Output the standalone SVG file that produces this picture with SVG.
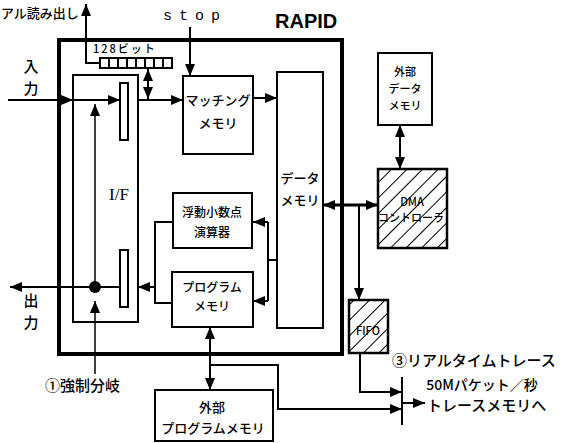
<svg xmlns="http://www.w3.org/2000/svg" width="575" height="443" viewBox="0 0 575 443">
<style>
.box{fill:#fff;stroke:#000;stroke-width:2}
.thick{fill:none;stroke:#000;stroke-width:4}
.ln{fill:none;stroke:#000;stroke-width:2}
.t{font-family:"Noto Sans CJK JP","Noto Sans",sans-serif;font-size:13px;font-weight:500;fill:#000;text-anchor:middle}
.s{font-family:"Noto Sans CJK JP","Noto Sans",sans-serif;font-weight:500;fill:#000}
</style>
<defs>
<marker id="ah" viewBox="0 0 12 10" refX="12" refY="5" markerWidth="12" markerHeight="10" markerUnits="userSpaceOnUse" orient="auto-start-reverse">
<path d="M0,0 L12,5 L0,10 z" fill="#000"/>
</marker>
<pattern id="hatch" width="11" height="11" patternUnits="userSpaceOnUse" patternTransform="rotate(45)">
<line x1="0" y1="0" x2="0" y2="11" stroke="#000" stroke-width="2"/>
</pattern>
</defs>
<rect width="575" height="443" fill="#fff"/>

<g id="rapid">
<rect x="59" y="40" width="283" height="314" class="thick"/>
<text x="275" y="28" style="font-family:'Liberation Sans',Arial,sans-serif;font-size:20px;font-weight:bold">RAPID</text>
</g>

<g id="if">
<rect x="73" y="75" width="65" height="247" class="box"/>
<rect x="120" y="83" width="8" height="57" class="box"/>
<rect x="120" y="250" width="8" height="57" class="box"/>
<text x="119" y="200" style="font-family:'Liberation Serif',serif;font-size:17px;text-anchor:middle">I/F</text>
</g>

<g id="bits">
<rect x="100" y="58" width="72" height="10" class="box"/>
<path d="M109,58V68M118,58V68M127,58V68M136,58V68M145,58V68M154,58V68M163,58V68" class="ln"/>
<text x="93" y="53" class="s" style="font-size:11px;letter-spacing:2px">128ビット</text>
</g>

<g id="matching">
<rect x="183" y="76" width="70" height="78" class="box"/>
<text x="218" y="105" class="t">マッチング</text>
<text x="218" y="128" class="t">メモリ</text>
</g>

<g id="datamem">
<rect x="277" y="72" width="46" height="256" class="box"/>
<text x="300" y="183" class="t">データ</text>
<text x="300" y="205" class="t">メモリ</text>
</g>

<g id="float">
<rect x="173" y="193" width="79" height="55" class="box"/>
<text x="212" y="217" class="t" style="font-size:12px">浮動小数点</text>
<text x="212" y="237" class="t" style="font-size:12px">演算器</text>
</g>

<g id="progmem">
<rect x="172" y="272" width="81" height="55" class="box"/>
<text x="212" y="292" class="t" style="font-size:12px">プログラム</text>
<text x="212" y="311" class="t" style="font-size:12px">メモリ</text>
</g>

<g id="extdata">
<rect x="378" y="53" width="54" height="72" class="box"/>
<text x="405" y="76" class="t" style="font-size:11px">外部</text>
<text x="405" y="93" class="t" style="font-size:11px">データ</text>
<text x="405" y="110" class="t" style="font-size:11px">メモリ</text>
</g>

<g id="dma">
<rect x="378" y="169" width="69" height="79" fill="url(#hatch)" stroke="#000" stroke-width="2.5"/>
<text x="412" y="206" class="t" style="font-size:11px">DMA</text>
<text x="411" y="222" class="t" style="font-size:11px">コントローラ</text>
</g>

<g id="fifo">
<rect x="349" y="300" width="39" height="53" fill="url(#hatch)" stroke="#000" stroke-width="2.5"/>
<text x="368" y="335" class="t" style="font-size:11px">FIFO</text>
</g>

<g id="extprog">
<rect x="155" y="390" width="118" height="51" class="box"/>
<text x="212" y="412" class="t">外部</text>
<text x="213" y="433" class="t">プログラムメモリ</text>
</g>

<g id="connectors">
<path d="M8,100H73" class="ln" marker-end="url(#ah)"/>
<path d="M73,100H120" class="ln" marker-end="url(#ah)"/>
<path d="M138,100H183" class="ln" marker-end="url(#ah)"/>
<path d="M148,99V69" class="ln" marker-start="url(#ah)" marker-end="url(#ah)"/>
<path d="M100,63H86V4" class="ln" marker-end="url(#ah)"/>
<path d="M190,27V76" class="ln" marker-end="url(#ah)"/>
<path d="M253,98H277" class="ln" marker-end="url(#ah)"/>
<path d="M323,205H378" fill="none" stroke="#000" stroke-width="3" marker-start="url(#ah)" marker-end="url(#ah)"/>
<path d="M359,205V300" class="ln" marker-end="url(#ah)"/>
<path d="M400,125V169" class="ln" marker-start="url(#ah)" marker-end="url(#ah)"/>
<path d="M277,260H268" class="ln"/>
<path d="M268,222V301" class="ln"/>
<path d="M268,222H253" class="ln" marker-end="url(#ah)"/>
<path d="M268,301H253" class="ln" marker-end="url(#ah)"/>
<path d="M173,222H155V303H172" class="ln"/>
<path d="M155,287H138" class="ln" marker-end="url(#ah)"/>
<path d="M120,287H10" class="ln" marker-end="url(#ah)"/>
<circle cx="95" cy="287" r="6" fill="#000"/>
<path d="M95,374V301" fill="none" stroke="#000" stroke-width="1.5" marker-end="url(#ah)"/>
<path d="M95,287V104" fill="none" stroke="#000" stroke-width="1.5" marker-end="url(#ah)"/>
<path d="M210,327V390" class="ln" marker-start="url(#ah)" marker-end="url(#ah)"/>
<path d="M210,365H278V409H402" class="ln" marker-end="url(#ah)"/>
<path d="M360,353V392H402" class="ln" marker-end="url(#ah)"/>
<path d="M402,377V425" class="ln"/>
<path d="M402,403H425" class="ln" marker-end="url(#ah)"/>
</g>

<g id="labels">
<text x="1" y="18" class="s" style="font-size:13px">アル読み出し</text>
<text x="163" y="20" style="font-family:'Liberation Mono',monospace;font-size:15px;letter-spacing:7px">stop</text>
<text x="31" y="72" class="t" style="font-size:15px">入</text>
<text x="31" y="94" class="t" style="font-size:15px">力</text>
<text x="31" y="306" class="t" style="font-size:15px">出</text>
<text x="31" y="328" class="t" style="font-size:15px">力</text>
<text x="45" y="391" class="s" style="font-size:15px">①強制分岐</text>
<text x="392" y="366" class="s" style="font-size:15px">③リアルタイムトレース</text>
<text x="482" y="390" class="t" style="font-size:14px">50Mパケット／秒</text>
<text x="427" y="411" class="s" style="font-size:15px">トレースメモリへ</text>
</g>
</svg>
